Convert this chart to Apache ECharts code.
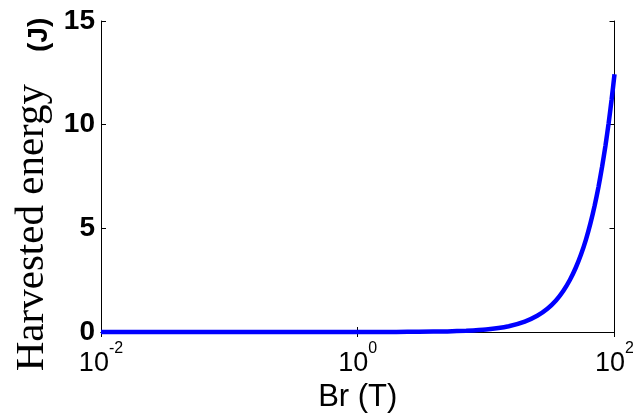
<!DOCTYPE html>
<html><head><meta charset="utf-8">
<script src="https://cdn.jsdelivr.net/npm/echarts@6/dist/echarts.min.js"></script>
<style>html,body{margin:0;padding:0;background:#fff}#c{width:633px;height:414px}</style>
</head><body><div id="c"></div>
<script>
// Br (T) sample positions and harvested energy (J)
const brValues = [0.01, 0.1, 1, 2, 3, 5, 7, 10, 15, 20, 25, 30, 35, 40, 45, 50, 55, 60, 65, 70, 75, 80, 85, 90, 95, 100];
const energyValues = [0, 0, 0.001, 0.005, 0.011, 0.03, 0.06, 0.12, 0.28, 0.5, 0.78, 1.12, 1.52, 1.99, 2.52, 3.11, 3.76, 4.47, 5.25, 6.09, 6.99, 7.96, 8.98, 10.07, 11.22, 12.43];
const xMin = 0.01, xMax = 100;
const yTicks = [0, 5, 10, 15];
const xLabel = 'Br (T)';
const yLabelMain = 'Harvested energy';
const yLabelUnit = '(J)';

const chart = echarts.init(document.getElementById('c'));
const data = brValues.map((b, i) => [b, energyValues[i]]);
const axisLine = {show: true, lineStyle: {color: '#000', width: 1}};
chart.setOption({
  backgroundColor: '#fff',
  animation: false,
  grid: {left: 101, right: 18.5, top: 21, bottom: 82, containLabel: false, outerBoundsMode: 'none'},
  xAxis: [{
    type: 'log', logBase: 10, min: xMin, max: xMax, interval: 2,
    name: xLabel, nameLocation: 'middle', nameGap: 46,
    nameTextStyle: {fontFamily: 'Liberation Sans', fontSize: 31, color: '#000'},
    axisLine: axisLine,
    axisTick: {show: true, inside: true, length: 5, lineStyle: {color: '#000'}},
    minorTick: {show: false},
    splitLine: {show: false},
    axisLabel: {
      margin: 9, color: '#000',
      formatter: v => '{b|10}{s|' + Math.round(Math.log10(v)) + '}',
      rich: {
        b: {fontFamily: 'Liberation Sans', fontSize: 27, lineHeight: 36, verticalAlign: 'bottom', color: '#000'},
        s: {fontFamily: 'Liberation Sans', fontSize: 16, lineHeight: 16, verticalAlign: 'top', color: '#000'}
      }
    }
  }, {
    type: 'log', logBase: 10, min: xMin, max: xMax, interval: 2, position: 'top',
    axisLine: axisLine,
    axisTick: {show: true, inside: true, length: 5, lineStyle: {color: '#000'}},
    axisLabel: {show: false}, splitLine: {show: false}
  }],
  yAxis: [{
    type: 'value', min: yTicks[0], max: yTicks[yTicks.length - 1], interval: 5,
    name: '{t|' + yLabelMain + '}{g| }{u|' + yLabelUnit + '}{p| }',
    nameLocation: 'middle', nameRotate: 90, nameGap: 48,
    nameTextStyle: {
      rich: {
        t: {fontFamily: 'Liberation Serif', fontSize: 41, lineHeight: 44, verticalAlign: 'bottom', color: '#000'},
        g: {width: 32},
        u: {fontFamily: 'Liberation Sans', fontSize: 28, lineHeight: 28, verticalAlign: 'bottom', fontWeight: 'bold', color: '#000'},
        p: {width: 36}
      }
    },
    axisLine: axisLine,
    axisTick: {show: true, inside: true, length: 5, lineStyle: {color: '#000'}},
    splitLine: {show: false},
    axisLabel: {margin: 6, color: '#000', fontFamily: 'Liberation Sans', fontSize: 28, fontWeight: 'bold'}
  }, {
    type: 'value', min: yTicks[0], max: yTicks[yTicks.length - 1], interval: 5, position: 'right',
    axisLine: axisLine,
    axisTick: {show: true, inside: true, length: 5, lineStyle: {color: '#000'}},
    axisLabel: {show: false}, splitLine: {show: false}
  }],
  series: [{
    type: 'line', data: data, showSymbol: false, smooth: 0.2,
    lineStyle: {color: '#0000ff', width: 4.5}, clip: false
  }]
});
</script></body></html>
